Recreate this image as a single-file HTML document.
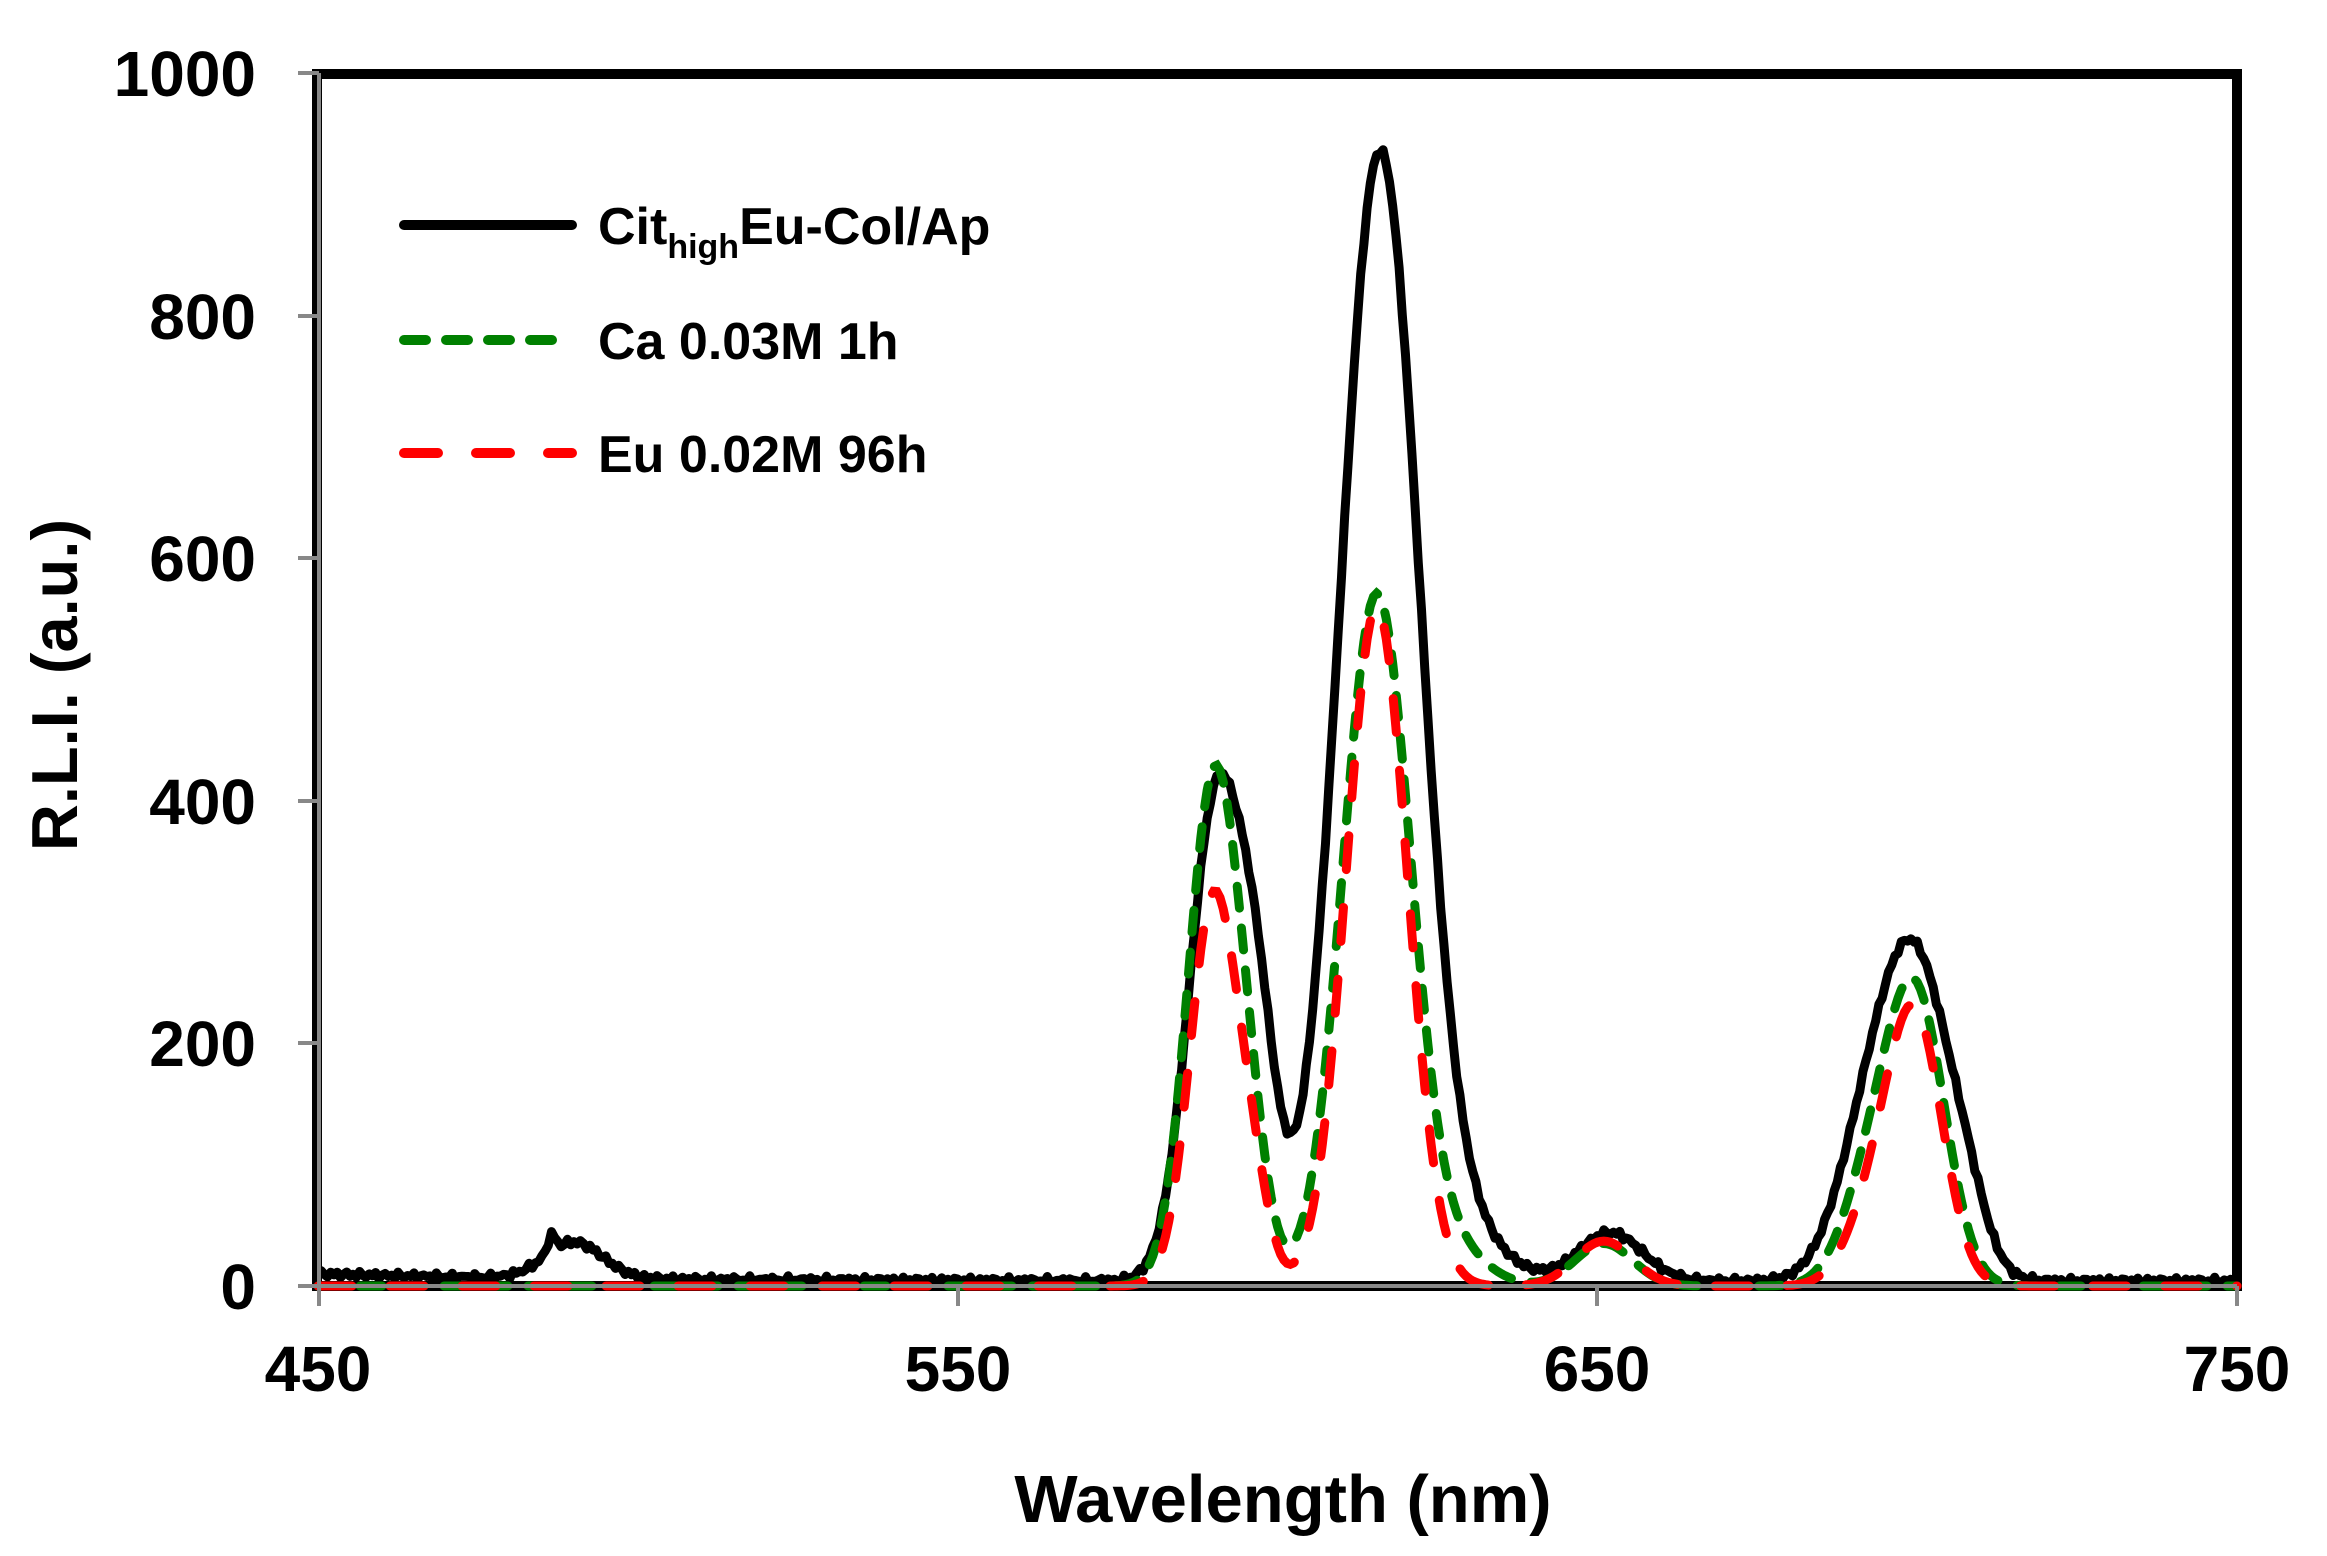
<!DOCTYPE html>
<html><head><meta charset="utf-8"><style>
html,body{margin:0;padding:0;background:#fff;}
svg{display:block;}
text{font-family:"Liberation Sans",Arial,sans-serif;font-weight:bold;fill:#000;}
</style></head><body>
<svg id="s" width="2327" height="1556" viewBox="0 0 2327 1556" xmlns="http://www.w3.org/2000/svg">
<rect width="2327" height="1556" fill="#fff"/>
<rect x="317" y="74" width="1920" height="1212" fill="none" stroke="#000" stroke-width="10"/>
<g id="series"></g>
<line x1="319" y1="1286" x2="2237" y2="1286" stroke="#888" stroke-width="4"/>
<line x1="319" y1="73" x2="319" y2="1306" stroke="#888" stroke-width="4"/>
<g stroke="#888" stroke-width="4">
<line x1="298" y1="73" x2="319" y2="73"/><line x1="298" y1="316" x2="319" y2="316"/>
<line x1="298" y1="558" x2="319" y2="558"/><line x1="298" y1="801" x2="319" y2="801"/>
<line x1="298" y1="1043" x2="319" y2="1043"/><line x1="298" y1="1286" x2="319" y2="1286"/>
<line x1="958" y1="1286" x2="958" y2="1306"/><line x1="1597" y1="1286" x2="1597" y2="1306"/>
<line x1="2237" y1="1286" x2="2237" y2="1306"/>
</g>
<g font-size="64" text-anchor="end">
<text x="256" y="96">1000</text><text x="256" y="339">800</text><text x="256" y="581">600</text>
<text x="256" y="824">400</text><text x="256" y="1066">200</text><text x="256" y="1309">0</text>
</g>
<g font-size="64" text-anchor="middle">
<text x="318" y="1391">450</text><text x="958" y="1391">550</text>
<text x="1597" y="1391">650</text><text x="2237" y="1391">750</text>
</g>
<text x="1283" y="1522" font-size="67" text-anchor="middle">Wavelength (nm)</text>
<text transform="translate(77,685) rotate(-90)" font-size="65" text-anchor="middle">R.L.I. (a.u.)</text>
<line x1="404" y1="225" x2="572" y2="225" stroke="#000" stroke-width="10" stroke-linecap="round"/>
<line x1="404" y1="340" x2="572" y2="340" stroke="#008000" stroke-width="10" stroke-linecap="round" stroke-dasharray="22 20"/>
<line x1="404" y1="453" x2="572" y2="453" stroke="#ff0000" stroke-width="10" stroke-linecap="round" stroke-dasharray="34 38"/>
<text x="598" y="244" font-size="52">Cit<tspan font-size="34" dy="14">high</tspan><tspan dy="-14">Eu-Col/Ap</tspan></text>
<text x="598" y="359" font-size="52">Ca 0.03M 1h</text>
<text x="598" y="472" font-size="52">Eu 0.02M 96h</text>
</svg>
<script>
function g(x,m,a,s){var d=(x-m)/s;return a*Math.exp(-d*d/2);}
function blk(x){return 4+6*Math.exp(-(x-450)/40)+g(x,490,30,4.5)+g(x,486.5,14,0.6)+g(x,590.5,400,4.3)+g(x,597,150,3)+g(x,616,930,6.2)+g(x,630,30,6)+g(x,652,40,5)+g(x,700,250,5.5)+g(x,692,95,5)+g(x,708,30,3);}
function grn(x){return g(x,590,415,4)+g(x,595.5,70,3)+g(x,615.5,570,5.3)+g(x,628,25,5)+g(x,651,35,4.5)+g(x,700,225,4.5)+g(x,693,85,4.5);}
function red(x){return g(x,590,320,3.7)+g(x,596,65,2.7)+g(x,615.5,560,4.8)+g(x,651,37,4.5)+g(x,700,200,4.2)+g(x,694,70,4.5);}
function path(f,noise){var p="";for(var x=450;x<=750;x+=0.5){var v=f(x);if(noise)v+=Math.sin(x*7.3)*2+Math.sin(x*3.1)*1.5;if(v<0)v=0;
var px=318+(x-450)*6.397,py=1286-v*1.213;p+=(p?"L":"M")+px.toFixed(1)+" "+py.toFixed(1);}return p;}
var s=document.getElementById("series");
s.innerHTML='<path d="'+path(blk,true)+'" fill="none" stroke="#000" stroke-width="9" stroke-linejoin="round"/>'+
'<path d="'+path(grn,false)+'" fill="none" stroke="#008000" stroke-width="9" stroke-linecap="round" stroke-dasharray="22 20"/>'+
'<path d="'+path(red,false)+'" fill="none" stroke="#ff0000" stroke-width="9" stroke-linecap="round" stroke-dasharray="34 38"/>';
</script>
</body></html>
